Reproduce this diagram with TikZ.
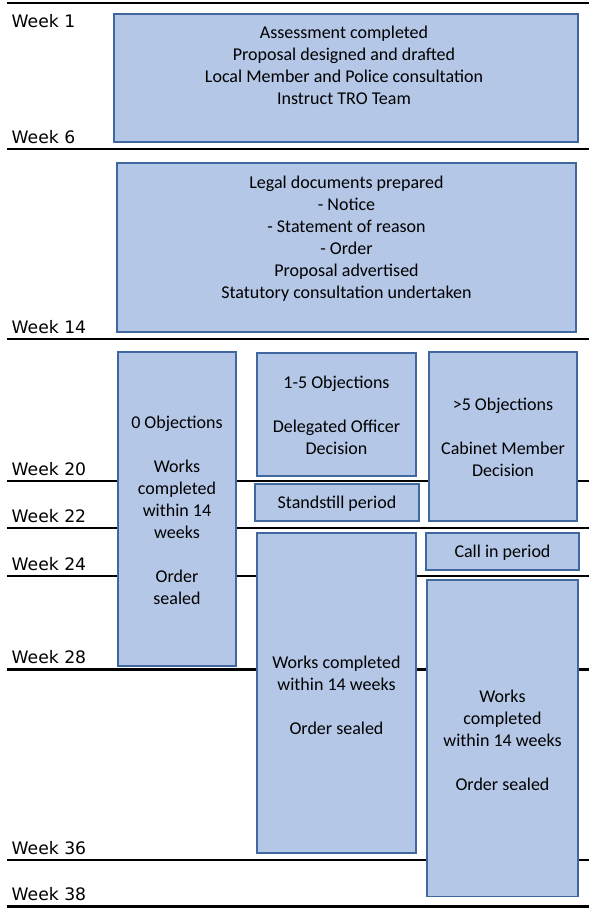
\documentclass[tikz,border=0pt]{standalone}
\usepackage{fontspec}
\setmainfont{Carlito}
\newfontfamily\weekfont{DejaVu Sans}
\definecolor{boxfill}{HTML}{B4C7E7}
\definecolor{boxline}{HTML}{41689E}
\begin{document}
\begin{tikzpicture}[x=1pt,y=-1pt,
  weekline/.style={line width=2.4pt,black},
  weeklab/.style={anchor=base west,inner sep=0pt,font=\weekfont\fontsize{17.2}{20}\selectfont},
  box/.style={draw=boxline,fill=boxfill,line width=1.1pt},
  txt/.style={align=center,inner sep=0pt,font=\fontsize{18}{21.9}\selectfont}]
\useasboundingbox (0,0) rectangle (589,908);
% week lines
\foreach \y/\n in {3/l0,149/l6,339/l14,481/l20,528/l22,576/l24,669.5/l28,860/l36,906.5/l38}{
  \coordinate (\n a) at (7,\y);
  \coordinate (\n b) at (589,\y);
  \draw[weekline] (\n a) -- (\n b);
}
% week labels
\node[weeklab] (w1) at (11.5,27) {Week 1};
\node[weeklab] (w6) at (11.5,143) {Week 6};
\node[weeklab] (w14) at (11.5,333.3) {Week 14};
\node[weeklab] (w20) at (11.5,475.5) {Week 20};
\node[weeklab] (w22) at (11.5,522.5) {Week 22};
\node[weeklab] (w24) at (11.5,570.5) {Week 24};
\node[weeklab] (w28) at (11.5,663.3) {Week 28};
\node[weeklab] (w36) at (11.5,854) {Week 36};
\node[weeklab] (w38) at (11.5,900.5) {Week 38};
% boxes
\draw[box] (114,14) rectangle (578,142);
\node[txt] (t1) at (344,65) {Assessment completed\\Proposal designed and drafted\\Local Member and Police consultation\\Instruct TRO Team};
\draw[box] (117,163) rectangle (576,332);
\node[txt] (t2) at (346.5,238.5) {Legal documents prepared\\- Notice\\- Statement of reason\\- Order\\Proposal advertised\\Statutory consultation undertaken};
\draw[box] (118,352) rectangle (236,666);
\node[txt] (t3) at (177,510.3) {0 Objections\\[21.9pt]Works\\completed\\within 14\\weeks\\[21.9pt]Order\\sealed};
\draw[box] (257,353) rectangle (416,476);
\node[txt] (t4) at (336.5,415.5) {1-5 Objections\\[21.9pt]Delegated Officer\\Decision};
\draw[box] (255,484) rectangle (419,521);
\node[txt] (t5) at (337,503.5) {Standstill period};
\draw[box] (429,352) rectangle (577,521);
\node[txt] (t6) at (503,437.3) {>5 Objections\\[21.9pt]Cabinet Member\\Decision};
\draw[box] (426,533) rectangle (579,570);
\node[txt] (t7) at (502.5,552.5) {Call in period};
\draw[box] (257,533) rectangle (416,853);
\node[txt] (t8) at (336.5,695) {Works completed\\within 14 weeks\\[21.9pt]Order sealed};
\draw[box] (427,580) rectangle (578,896.5);
\node[txt] (t9) at (502.5,740.5) {Works\\completed\\within 14 weeks\\[21.9pt]Order sealed};
\end{tikzpicture}
\end{document}
